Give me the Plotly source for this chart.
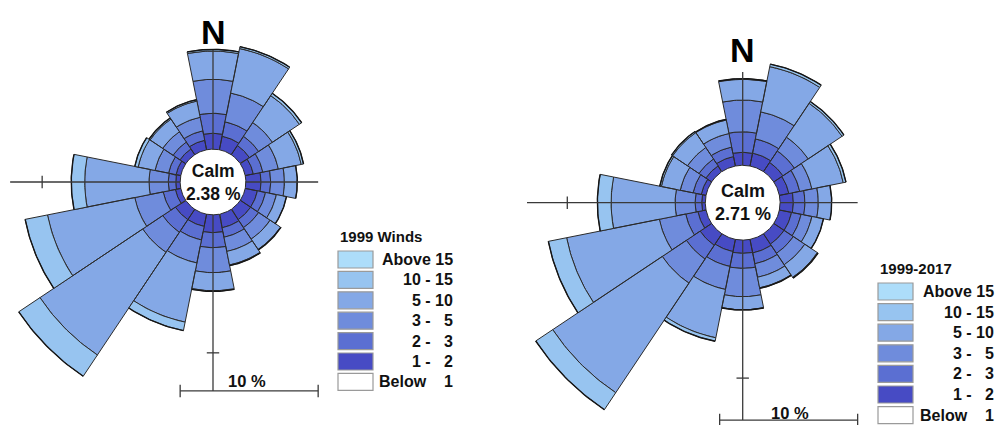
import numpy as np
import plotly.graph_objects as go

# ---------------------------------------------------------------- data
directions = ["N", "NNE", "NE", "ENE", "E", "ESE", "SE", "SSE",
              "S", "SSW", "SW", "WSW", "W", "WNW", "NW", "NNW"]

class_labels = ["1 -\u00a0\u20072", "2 -\u00a0\u20073", "3 -\u00a0\u20075",
                "5 - 10", "10 - 15", "Above 15"]
below_label = "Below\u00a0\u00a0\u20071"

# 1999 winds: frequency (%) per direction for each speed class
calm_1999 = 2.38
w1999_1_2 = [1.15, 1.00, 0.80, 0.60, 1.10, 0.90, 0.90, 1.00, 1.29, 0.90, 0.90, 0.40, 0.32, 0.35, 0.50, 0.70]
w1999_2_3 = [1.45, 1.06, 0.80, 0.70, 0.70, 0.60, 0.70, 0.70, 1.09, 1.00, 1.10, 0.90, 0.54, 0.55, 0.60, 0.70]
w1999_3_5 = [2.46, 2.13, 1.20, 1.15, 1.00, 0.80, 1.00, 1.05, 1.81, 1.70, 1.75, 2.10, 1.40, 1.00, 0.90, 1.00]
w1999_5_10 = [2.05, 3.29, 2.35, 1.69, 0.93, 0.75, 0.90, 1.00, 1.31, 4.37, 8.95, 6.45, 4.66, 1.25, 1.10, 1.20]
w1999_10_15 = [0.12, 0.14, 0.20, 0.17, 0.00, 0.00, 0.04, 0.05, 0.05, 0.63, 1.85, 1.65, 0.97, 0.25, 0.10, 0.10]
w1999_above_15 = [0.00, 0.00, 0.00, 0.00, 0.00, 0.00, 0.00, 0.00, 0.00, 0.00, 0.00, 0.00, 0.00, 0.00, 0.00, 0.00]

# 1999-2017 winds
calm_9917 = 2.71
w9917_1_2 = [0.94, 0.95, 0.80, 0.70, 0.96, 0.90, 0.90, 1.00, 0.96, 0.90, 1.00, 0.60, 0.26, 0.35, 0.50, 0.70]
w9917_2_3 = [1.49, 1.05, 1.00, 0.80, 0.84, 0.70, 0.80, 0.80, 1.09, 1.10, 1.20, 0.90, 0.48, 0.60, 0.60, 0.70]
w9917_3_5 = [2.30, 2.00, 1.20, 0.90, 0.97, 0.80, 1.00, 1.00, 2.05, 1.70, 2.10, 1.95, 1.45, 0.95, 1.00, 1.00]
w9917_5_10 = [1.50, 3.34, 2.95, 2.32, 0.97, 0.86, 1.10, 0.78, 0.95, 3.57, 9.55, 6.85, 4.64, 1.40, 1.30, 1.00]
w9917_10_15 = [0.05, 0.19, 0.16, 0.20, 0.00, 0.00, 0.06, 0.04, 0.02, 0.26, 1.48, 1.35, 0.99, 0.12, 0.10, 0.05]
w9917_above_15 = [0.00, 0.00, 0.00, 0.00, 0.00, 0.00, 0.00, 0.00, 0.00, 0.00, 0.00, 0.00, 0.00, 0.00, 0.00, 0.00]

class_colors = ["#474BC4", "#5B6FD2", "#6F8CDC", "#84A8E6", "#97C4F0", "#ADDDFA"]

# ---------------------------------------------------------------- layout constants
W, H = 1000, 425
PX_PER_PCT = 13.8
FONT = "Liberation Sans, Arial, Helvetica, sans-serif"
LINE = "#2b2b2b"

roses = [
    dict(calm=calm_1999,
         classes=[w1999_1_2, w1999_2_3, w1999_3_5, w1999_5_10, w1999_10_15, w1999_above_15],
         xa="x", ya="y", dom=[0.0, 0.5], cx=213.0, cy=182.0,
         axis_left=-14.7, axis_top=9.57, bar_y=-15.14, bar_x0=-2.38, bar_len=10.0,
         n_y=10.87, pct_lbl=(2.45, -14.45), calm_size=17.5,
         legend_title="1999 Winds", leg_x0=338, leg_top=251, leg_pitch=20.4,
         leg_text_x=455, title_y=236),
    dict(calm=calm_9917,
         classes=[w9917_1_2, w9917_2_3, w9917_3_5, w9917_5_10, w9917_10_15, w9917_above_15],
         xa="x2", ya="y2", dom=[0.5, 1.0], cx=742.7, cy=202.7,
         axis_left=-15.63, axis_top=9.47, bar_y=-15.75, bar_x0=-1.67, bar_len=10.0,
         n_y=11.07, pct_lbl=(3.45, -15.25), calm_size=18,
         legend_title="1999-2017", leg_x0=878, leg_top=283, leg_pitch=20.6,
         leg_text_x=996, title_y=268),
]

HALF = 11.25  # half sector width in degrees


def arc(r, a0, a1, n=24):
    t = np.radians(np.linspace(a0, a1, n))
    return r * np.sin(t), r * np.cos(t)


fig = go.Figure()
shapes = []
annotations = []

for rose in roses:
    calm = rose["calm"]
    cum = np.zeros(len(directions))
    xa, ya = rose["xa"], rose["ya"]

    # stacked wedge rings, one trace per speed class
    for k, vals in enumerate(rose["classes"]):
        vals = np.asarray(vals, dtype=float)
        xs, ys = [], []
        for i, v in enumerate(vals):
            if v <= 0:
                continue
            c = i * 22.5
            r_in = calm + cum[i]
            r_out = r_in + v
            ox, oy = arc(r_out, c - HALF, c + HALF)
            ix, iy = arc(r_in, c + HALF, c - HALF)
            xs += list(ox) + list(ix) + [ox[0], None]
            ys += list(oy) + list(iy) + [oy[0], None]
        cum += vals
        fig.add_trace(go.Scatter(
            x=xs, y=ys, mode="lines", fill="toself", fillcolor=class_colors[k],
            line=dict(color=LINE, width=1), xaxis=xa, yaxis=ya,
            name=class_labels[k], showlegend=False, hoverinfo="skip"))

    # darker outer rim of each direction
    rx, ry = [], []
    for i, tot in enumerate(cum):
        c = i * 22.5
        ox, oy = arc(calm + tot, c - HALF, c + HALF)
        rx += list(ox) + [None]
        ry += list(oy) + [None]
    fig.add_trace(go.Scatter(x=rx, y=ry, mode="lines", line=dict(color="#151515", width=1.4),
                             xaxis=xa, yaxis=ya, showlegend=False, hoverinfo="skip"))

    # cross-hair axes (interrupted by the calm circle)
    ax_right = rose["bar_x0"] + rose["bar_len"]
    segs = [
        (rose["axis_left"], 0, -calm, 0),
        (calm, 0, ax_right, 0),
        (0, rose["axis_top"], 0, calm),
        (0, -calm, 0, rose["bar_y"]),
    ]
    ring10 = calm + 10.0
    tick = 0.45
    segs += [
        (-ring10, -tick, -ring10, tick),          # 10 % tick on W axis
        (-tick, -ring10, tick, -ring10),          # 10 % tick on S axis
        (rose["bar_x0"], rose["bar_y"], ax_right, rose["bar_y"]),   # scale bar
        (rose["bar_x0"], rose["bar_y"] - tick, rose["bar_x0"], rose["bar_y"] + tick),
        (ax_right, rose["bar_y"] - tick, ax_right, rose["bar_y"] + tick),
    ]
    for x0, y0, x1, y1 in segs:
        shapes.append(dict(type="line", xref=xa, yref=ya, x0=x0, y0=y0, x1=x1, y1=y1,
                           line=dict(color="#3a3a3a", width=1.3), layer="above"))

    # texts on the rose
    annotations.append(dict(x=0, y=rose["n_y"], xref=xa, yref=ya, text="<b>N</b>",
                            showarrow=False, font=dict(family=FONT, size=34, color="#000")))
    annotations.append(dict(x=0, y=0, xref=xa, yref=ya,
                            text=f"<b>Calm</b><br><b>{calm:.2f} %</b>", showarrow=False,
                            font=dict(family=FONT, size=rose["calm_size"], color="#111")))
    annotations.append(dict(x=rose["pct_lbl"][0], y=rose["pct_lbl"][1], xref=xa, yref=ya,
                            text="<b>10 %</b>", showarrow=False,
                            font=dict(family=FONT, size=16.5, color="#111")))

    # legend block (drawn top to bottom: highest class first)
    annotations.append(dict(x=rose["leg_x0"] / W, y=1 - rose["title_y"] / H, xref="paper",
                            yref="paper", xanchor="left", yanchor="middle",
                            text=f"<b>{rose['legend_title']}</b>", showarrow=False,
                            font=dict(family=FONT, size=15, color="#111")))
    rows = [(class_colors[k], class_labels[k]) for k in range(5, -1, -1)]
    rows.append(("#FFFFFF", below_label))
    for j, (col, lbl) in enumerate(rows):
        top = rose["leg_top"] + j * rose["leg_pitch"]
        bot = top + 17
        shapes.append(dict(type="rect", xref="paper", yref="paper",
                           x0=rose["leg_x0"] / W, x1=(rose["leg_x0"] + 35) / W,
                           y0=1 - bot / H, y1=1 - top / H, fillcolor=col,
                           line=dict(color="#9a9a9a", width=1.2), layer="above"))
        annotations.append(dict(x=rose["leg_text_x"] / W, y=1 - (top + 8.5) / H,
                                xref="paper", yref="paper", xanchor="right",
                                yanchor="middle", text=f"<b>{lbl}</b>", showarrow=False,
                                font=dict(family=FONT, size=16, color="#111")))


def axis_range(center_px, lo_px, hi_px):
    return [(lo_px - center_px) / PX_PER_PCT, (hi_px - center_px) / PX_PER_PCT]


hidden = dict(visible=False, showgrid=False, zeroline=False, fixedrange=True)
r0, r1 = roses
fig.update_layout(
    width=W, height=H, margin=dict(l=0, r=0, t=0, b=0),
    paper_bgcolor="white", plot_bgcolor="white", showlegend=False,
    xaxis=dict(domain=r0["dom"], range=axis_range(r0["cx"], 0, 500), **hidden),
    yaxis=dict(domain=[0, 1], range=[-(H - r0["cy"]) / PX_PER_PCT, r0["cy"] / PX_PER_PCT], **hidden),
    xaxis2=dict(domain=r1["dom"], range=axis_range(r1["cx"], 500, 1000), **hidden),
    yaxis2=dict(domain=[0, 1], range=[-(H - r1["cy"]) / PX_PER_PCT, r1["cy"] / PX_PER_PCT], **hidden),
    shapes=shapes, annotations=annotations,
)

fig.write_html("out.html")
